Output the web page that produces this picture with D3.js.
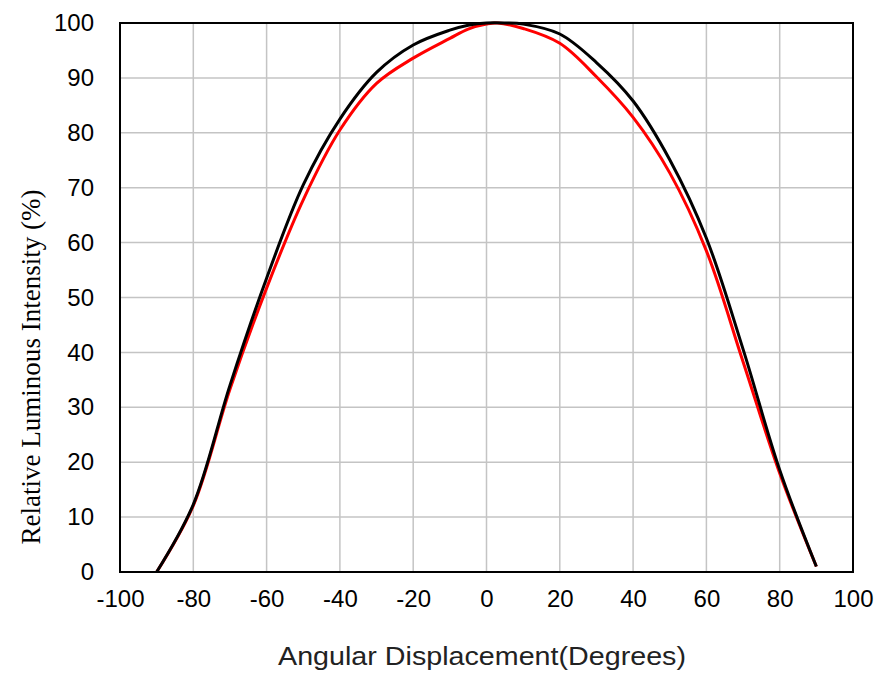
<!DOCTYPE html>
<html>
<head>
<meta charset="utf-8">
<script src="https://cdn.jsdelivr.net/npm/d3@7"></script>
<style>
  body { margin: 0; padding: 0; background: #fff; }
</style>
</head>
<body>
<script>
// angles (degrees) and relative intensity (%)
const blackAngles = [-90, -80, -70, -60, -50, -40, -30, -20, -10, -5, 0, 5, 10, 20, 30, 40, 50, 60, 70, 80, 90];
const blackValues = [0, 12.3, 34, 53.5, 70.5, 82.5, 91, 96, 98.7, 99.6, 100, 100, 99.8, 98, 92.8, 85.8, 75.1, 60.8, 40.6, 18.6, 1];

const redAngles = [-90, -80, -70, -60, -50, -40, -30, -20, -10, -5, 0, 3, 10, 20, 30, 40, 50, 60, 70, 80, 90];
const redValues = [0, 12.1, 33.3, 51.7, 67.8, 80.5, 89, 93.6, 97.2, 98.9, 99.8, 100, 99, 96.3, 90.2, 82.8, 72.7, 58.5, 38.3, 18, 1];

const xTicks = [-100, -80, -60, -40, -20, 0, 20, 40, 60, 80, 100];
const yTicks = [0, 10, 20, 30, 40, 50, 60, 70, 80, 90, 100];

const width = 874;
const height = 673;
const margin = { top: 23, right: 21, bottom: 101, left: 120 };
const innerW = width - margin.left - margin.right;
const innerH = height - margin.top - margin.bottom;

const svg = d3.select("body")
  .append("svg")
  .attr("width", width)
  .attr("height", height)
  .style("background", "#fff");

const x = d3.scaleLinear().domain([-100, 100]).range([margin.left, margin.left + innerW]);
const y = d3.scaleLinear().domain([0, 100]).range([margin.top + innerH, margin.top]);

// grid
svg.append("g")
  .attr("stroke", "#c4c4c4")
  .attr("stroke-width", 1.5)
  .selectAll("line.v")
  .data(xTicks.slice(1, -1))
  .join("line")
  .attr("x1", (d) => x(d))
  .attr("x2", (d) => x(d))
  .attr("y1", y(0))
  .attr("y2", y(100));

svg.append("g")
  .attr("stroke", "#c4c4c4")
  .attr("stroke-width", 1.5)
  .selectAll("line.h")
  .data(yTicks.slice(1, -1))
  .join("line")
  .attr("x1", x(-100))
  .attr("x2", x(100))
  .attr("y1", (d) => y(d))
  .attr("y2", (d) => y(d));

// axes (labels only)
const xAxis = svg.append("g")
  .attr("transform", `translate(0,${y(0)})`)
  .call(d3.axisBottom(x).tickValues(xTicks).tickSize(0).tickPadding(18).tickFormat((d) => String(d)));

const yAxis = svg.append("g")
  .attr("transform", `translate(${x(-100)},0)`)
  .call(d3.axisLeft(y).tickValues(yTicks).tickSize(0).tickPadding(26).tickFormat((d) => String(d)));

[xAxis, yAxis].forEach((a) => {
  a.select(".domain").remove();
  a.selectAll("text")
    .attr("fill", "#000")
    .style("font-family", "'Liberation Sans', Arial, sans-serif")
    .style("font-size", "24px");
});

// curves
const line = d3.line()
  .x((d) => x(d[0]))
  .y((d) => y(d[1]))
  .curve(d3.curveCatmullRom.alpha(0.5));

const redData = redAngles.map((a, i) => [a, redValues[i]]);
const blackData = blackAngles.map((a, i) => [a, blackValues[i]]);

svg.append("path")
  .datum(redData)
  .attr("fill", "none")
  .attr("stroke", "#ff0000")
  .attr("stroke-width", 3)
  .attr("d", line);

svg.append("path")
  .datum(blackData)
  .attr("fill", "none")
  .attr("stroke", "#000")
  .attr("stroke-width", 3)
  .attr("d", line);

// frame
svg.append("rect")
  .attr("x", x(-100))
  .attr("y", y(100))
  .attr("width", innerW)
  .attr("height", innerH)
  .attr("fill", "none")
  .attr("stroke", "#000")
  .attr("stroke-width", 2);

// axis titles
svg.append("text")
  .attr("x", 482)
  .attr("y", 665)
  .attr("text-anchor", "middle")
  .attr("fill", "#222")
  .attr("textLength", 408)
  .attr("lengthAdjust", "spacingAndGlyphs")
  .style("font-family", "'Liberation Sans', Arial, sans-serif")
  .style("font-size", "26px")
  .text("Angular Displacement(Degrees)");

svg.append("text")
  .attr("transform", "translate(40,367) rotate(-90)")
  .attr("text-anchor", "middle")
  .attr("fill", "#000")
  .attr("textLength", 355)
  .attr("lengthAdjust", "spacingAndGlyphs")
  .style("font-family", "'Liberation Serif', 'Times New Roman', serif")
  .style("font-size", "27px")
  .text("Relative Luminous Intensity (%)");
</script>
</body>
</html>
